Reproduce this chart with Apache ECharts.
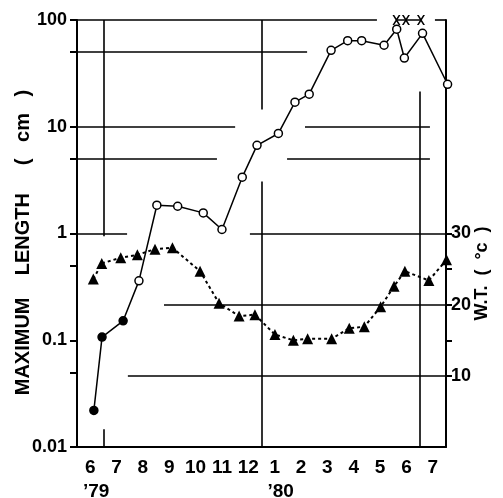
<!DOCTYPE html>
<html>
<head>
<meta charset="utf-8">
<script src="https://cdn.jsdelivr.net/npm/echarts@6/dist/echarts.min.js"></script>
<style>
html,body{margin:0;padding:0;background:#fff;}
#main{width:503px;height:498px;}
</style>
</head>
<body>
<div id="main"></div>
<script>
// month categories along the bottom ('79 -> '80)
var monthLabels = ['6\n’79','7','8','9','10','11','12','1\n’80','2','3','4','5','6','7'];
// maximum length (cm), x in months from start of June '79
var lengthX  = [0.64,0.95,1.75,2.35,3.03,3.82,4.79,5.5,6.27,6.83,7.64,8.27,8.81,9.64,10.27,10.8,11.65,12.13,12.42,13.11,14.06];
var lengthCm = [0.022,0.107,0.152,0.36,1.84,1.80,1.56,1.09,3.37,6.7,8.65,17.0,20.2,52,64,64,58,82,44,75,25];
var filledCount = 3; // first samples drawn as filled circles
// off scale samples (x marks on the top edge)
var offScaleX  = [12.12,12.48,13.05];
var offScaleCm = [100,100,100];
// water temperature (deg C)
var tempX = [0.62,0.94,1.66,2.29,2.96,3.62,4.67,5.39,6.15,6.75,7.51,8.21,8.75,9.66,10.33,10.9,11.52,12.03,12.44,13.35,14.02];
var tempC = [23.6,25.8,26.6,27.0,27.8,28.0,24.7,20.2,18.4,18.6,15.8,15.0,15.2,15.2,16.7,16.9,19.7,22.6,24.7,23.4,26.3];
// tick labels
var lenTickLabels = [0.01,0.1,1,10,100];
var lenTicks = [0.01,0.05,0.1,0.5,1,5,10,50,100];
var tempTickLabels = [10,20,30];
var tempTicks = [10,15,20,25,30];

var dom = document.getElementById('main');
var myChart = echarts.init(dom);

var lenData = [];
for (var i = 0; i < lengthX.length; i++) {
	var it = {value: [lengthX[i], lengthCm[i]]};
	if (i < filledCount) {
		it.itemStyle = {color: '#000', borderColor: '#000'};
	}
	lenData.push(it);
}
var tempData = [];
for (var j = 0; j < tempX.length; j++) {
	tempData.push([tempX[j], tempC[j]]);
}
var offData = [];
for (var k = 0; k < offScaleX.length; k++) {
	offData.push([offScaleX[k], offScaleCm[k]]);
}

// remnant ruled lines of the original figure (data coords)
function seg(x0, y0, x1, y1) {
	return [{coord: [x0, y0]}, {coord: [x1, y1]}];
}
var lenRules = [
	seg(0, 100, 11.38, 100), seg(13.58, 100, 14, 100),
	seg(0, 50, 8.73, 50),
	seg(0, 10, 6.0, 10), seg(8.65, 10, 13.39, 10),
	seg(0, 5, 5.31, 5), seg(7.97, 5, 13.39, 5),
	seg(0, 1, 1.9, 1), seg(6.56, 1, 14, 1),
	seg(1, 100, 1, 0.94), seg(1, 0.0147, 1, 0.01),
	seg(7, 100, 7, 14.5), seg(7, 3.07, 7, 0.01),
	seg(13, 21.4, 13, 0.01)
];
var tempRules = [
	seg(3.3, 20, 14, 20),
	seg(1.93, 10, 14, 10)
];
var ruleStyle = {color: '#000', width: 1.6, type: 'solid'};

var xPath = 'path://M0,0L2.2,0L5,3.8L7.8,0L10,0L6.1,5.5L10,11L7.8,11L5,7.2L2.2,11L0,11L3.9,5.5Z';
var fnt = 'Liberation Sans';

var option = {
	animation: false,
	backgroundColor: '#fff',
	textStyle: {fontFamily: fnt, fontWeight: 'bold', color: '#000'},
	grid: {left: 77, right: 57, top: 20, bottom: 51, containLabel: false, outerBoundsMode: 'none'},
	xAxis: [
		{
			type: 'category',
			data: monthLabels,
			boundaryGap: true,
			axisLine: {onZero: false, lineStyle: {color: '#000', width: 2}},
			axisTick: {length: 7, lineStyle: {color: '#000', width: 2}},
			axisLabel: {
				interval: 0,
				margin: 9,
				color: '#000',
				fontFamily: fnt,
				fontWeight: 'bold',
				fontSize: 19,
				lineHeight: 24,
				formatter: function (v) {
					var p = v.split('\n');
					return p.length > 1 ? p[0] + '\n{yr|' + p[1] + '}' : v;
				},
				rich: {
					yr: {fontFamily: fnt, fontWeight: 'bold', fontSize: 19, lineHeight: 24, color: '#000', padding: [0, 0, 0, 12]}
				}
			},
			splitLine: {show: false}
		},
		{type: 'value', min: 0, max: 14, show: false}
	],
	yAxis: [
		{
			type: 'log',
			logBase: 10,
			min: 0.01,
			max: 100,
			name: 'MAXIMUM    LENGTH     (   cm   )',
			nameLocation: 'middle',
			nameRotate: 90,
			nameGap: 44,
			nameMoveOverlap: false,
			nameTextStyle: {fontFamily: fnt, fontWeight: 'bold', fontSize: 20, color: '#000', padding: [0, 18, 0, 0]},
			axisLine: {show: true, lineStyle: {color: '#000', width: 2}},
			axisTick: {show: true, length: 7, customValues: lenTicks, lineStyle: {color: '#000', width: 2}},
			axisLabel: {
				margin: 10,
				color: '#000',
				fontFamily: fnt,
				fontWeight: 'bold',
				fontSize: 18,
				customValues: lenTickLabels,
				formatter: function (v) { return String(+(+v).toPrecision(2)); }
			},
			splitLine: {show: false},
			minorTick: {show: false}
		},
		{
			type: 'value',
			position: 'right',
			min: 0,
			max: 60,
			name: 'W.T.  (  °c  )',
			nameLocation: 'middle',
			nameRotate: 90,
			nameGap: 27,
			nameMoveOverlap: false,
			nameTextStyle: {fontFamily: fnt, fontWeight: 'bold', fontSize: 18, color: '#000', padding: [0, 80, 0, 0]},
			axisLine: {show: true, onZero: false, lineStyle: {color: '#000', width: 2}},
			axisTick: {show: true, length: 6, customValues: tempTicks, lineStyle: {color: '#000', width: 2}},
			axisLabel: {
				margin: 5,
				color: '#000',
				fontFamily: fnt,
				fontWeight: 'bold',
				fontSize: 18,
				customValues: tempTickLabels
			},
			splitLine: {show: false}
		}
	],
	series: [
		{
			name: 'W.T.',
			type: 'line',
			xAxisIndex: 1,
			yAxisIndex: 1,
			data: tempData,
			clip: false,
			symbol: 'triangle',
			symbolSize: 11,
			itemStyle: {color: '#000'},
			lineStyle: {color: '#000', width: 2, type: [3, 3]},
			markLine: {silent: true, symbol: ['none', 'none'], label: {show: false}, lineStyle: ruleStyle, data: tempRules},
			z: 3
		},
		{
			name: 'length',
			type: 'line',
			xAxisIndex: 1,
			yAxisIndex: 0,
			data: lenData,
			clip: false,
			symbol: 'circle',
			symbolSize: 8,
			showAllSymbol: true,
			itemStyle: {color: '#fff', borderColor: '#000', borderWidth: 1.5},
			lineStyle: {color: '#000', width: 1.5},
			markLine: {silent: true, symbol: ['none', 'none'], label: {show: false}, lineStyle: ruleStyle, data: lenRules},
			z: 4
		},
		{
			name: 'off scale',
			type: 'line',
			xAxisIndex: 1,
			yAxisIndex: 0,
			data: offData,
			clip: false,
			symbol: xPath,
			symbolSize: [8, 10],
			itemStyle: {color: '#000'},
			lineStyle: {color: '#000', width: 1.5},
			z: 5
		}
	]
};
if (option && typeof option === "object") {
	myChart.setOption(option, true);
}
</script>
</body>
</html>
